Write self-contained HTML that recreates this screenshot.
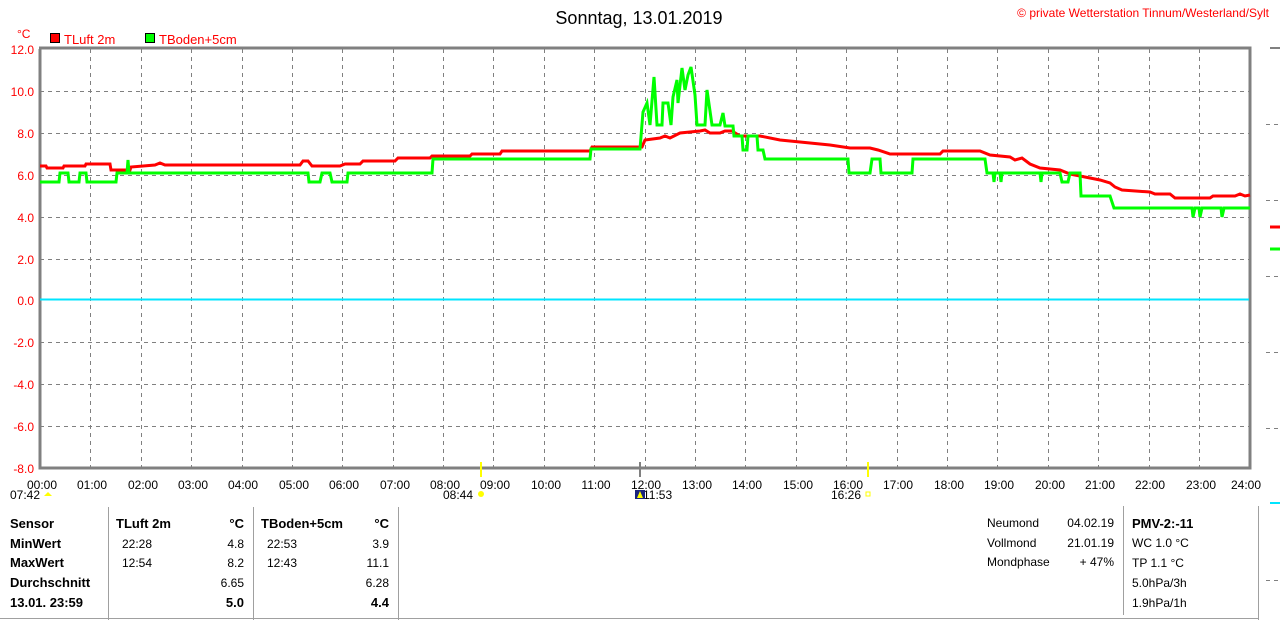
<!DOCTYPE html>
<html><head><meta charset="utf-8"><style>
html,body{margin:0;padding:0;background:#fff;}
svg{display:block;font-family:"Liberation Sans",sans-serif;}
</style></head><body>
<svg width="1280" height="621" viewBox="0 0 1280 621" xmlns="http://www.w3.org/2000/svg">
<rect width="1280" height="621" fill="#fff"/>
<text x="639" y="24" font-size="18" text-anchor="middle" fill="#000">Sonntag, 13.01.2019</text>
<text x="1269" y="17" font-size="12" text-anchor="end" fill="#f00">© private Wetterstation Tinnum/Westerland/Sylt</text>
<text x="17" y="38" font-size="12" fill="#f00">°C</text>
<rect x="50.5" y="33.5" width="9" height="9" fill="#f00" stroke="#000"/>
<text x="64" y="44" font-size="13" fill="#f00">TLuft 2m</text>
<rect x="145.5" y="33.5" width="9" height="9" fill="#0f0" stroke="#000"/>
<text x="159" y="44" font-size="13" fill="#f00">TBoden+5cm</text>
<g stroke="#808080" stroke-width="1" stroke-dasharray="4,4" fill="none">
<path d="M40 91.5H1250M40 133.5H1250M40 175.5H1250M40 217.5H1250M40 259.5H1250M40 342.5H1250M40 384.5H1250M40 426.5H1250"/>
<path d="M90.5 49V468M141.5 49V468M191.5 49V468M242.5 49V468M292.5 49V468M342.5 49V468M393.5 49V468M443.5 49V468M493.5 49V468M544.5 49V468M594.5 49V468M645.5 49V468M695.5 49V468M745.5 49V468M796.5 49V468M846.5 49V468M897.5 49V468M947.5 49V468M997.5 49V468M1048.5 49V468M1098.5 49V468M1149.5 49V468M1199.5 49V468"/>
<path d="M1266 124.5H1280M1266 200.5H1280M1266 276.5H1280M1266 352.5H1280M1266 428.5H1280M1266 580.5H1280"/>
</g>
<path d="M40 49V468H1250V48H39" fill="none" stroke="#808080" stroke-width="3"/>
<path d="M1270 48H1280" stroke="#808080" stroke-width="2"/>
<path d="M40 299.5H1249" stroke="#00e5ff" stroke-width="2"/>
<g fill="#f00" font-size="12" text-anchor="end">
<text x="34" y="54">12.0</text><text x="34" y="96">10.0</text><text x="34" y="138">8.0</text><text x="34" y="180">6.0</text><text x="34" y="222">4.0</text><text x="34" y="264">2.0</text><text x="34" y="305">0.0</text><text x="34" y="347">-2.0</text><text x="34" y="389">-4.0</text><text x="34" y="431">-6.0</text><text x="34" y="473">-8.0</text>
</g>
<g font-size="12" text-anchor="middle" fill="#000">
<text x="42" y="489">00:00</text><text x="92" y="489">01:00</text><text x="143" y="489">02:00</text><text x="193" y="489">03:00</text><text x="243" y="489">04:00</text><text x="294" y="489">05:00</text><text x="344" y="489">06:00</text><text x="395" y="489">07:00</text><text x="445" y="489">08:00</text><text x="495" y="489">09:00</text><text x="546" y="489">10:00</text><text x="596" y="489">11:00</text><text x="646" y="489">12:00</text><text x="697" y="489">13:00</text><text x="747" y="489">14:00</text><text x="798" y="489">15:00</text><text x="848" y="489">16:00</text><text x="898" y="489">17:00</text><text x="949" y="489">18:00</text><text x="999" y="489">19:00</text><text x="1050" y="489">20:00</text><text x="1100" y="489">21:00</text><text x="1150" y="489">22:00</text><text x="1201" y="489">23:00</text><text x="1231" y="489" text-anchor="start">24:00</text>
</g>
<g font-size="12" fill="#000">
<text x="10" y="499">07:42</text><text x="443" y="499">08:44</text><text x="643" y="499">11:53</text><text x="831" y="499">16:26</text>
</g>
<path d="M44 496h8l-4-4z" fill="#ff0"/>
<circle cx="481" cy="494" r="3" fill="#ff0"/>
<rect x="635" y="490" width="10" height="9" fill="#1a237e"/>
<path d="M640 491l-3 7h6z" fill="#ff0"/>
<rect x="866" y="492" width="4" height="4" fill="none" stroke="#ff0"/>
<path d="M481 462V477M868 462V477" stroke="#ff0" stroke-width="2"/>
<path d="M640 462V477" stroke="#808080" stroke-width="2"/>
<polyline fill="none" stroke="#f00" stroke-width="3" points="40,166 46,166 47,168 63,168 64,166 85,166 86,164 110,164 111,170 130,170 131,167 155,165 160,163 165,165 300,165 303,161 308,161 312,166 340,166 345,164 360,164 363,161 395,161 398,158 430,158 432,156 470,156 472,154 500,154 502,151 590,151 592,147 642,147 645,140 660,138 665,136 670,138 680,133 700,131 705,130 710,133 720,133 725,131 732,131 740,136 760,136 780,140 800,142 830,145 850,148 870,148 878,150 890,154 940,154 943,151 980,151 990,155 1010,157 1015,160 1022,158 1030,164 1040,168 1060,170 1070,174 1090,178 1100,180 1110,183 1115,187 1122,190 1150,192 1155,194 1170,194 1175,198 1210,198 1213,196 1235,196 1240,194 1245,196 1250,195"/>
<polyline fill="none" stroke="#0f0" stroke-width="3" points="40,182 59,182 60,173 68,173 69,182 79,182 80,173 86,173 87,182 116,182 117,173 127,173 128,160 129,173 308,173 309,182 320,182 322,173 330,173 332,182 347,182 348,173 432,173 433,159 590,159 591,149 640,149 643,112 647,103 650,125 654,77 657,125 662,125 663,103 668,103 671,125 673,97 677,80 678,103 682,68 685,90 688,75 691,67 695,95 697,125 705,125 707,90 712,125 720,125 723,113 725,126 733,126 734,136 742,136 743,150 747,150 748,136 757,136 758,150 763,150 765,159 848,159 849,173 870,173 872,159 880,159 881,173 912,173 913,159 985,159 987,173 993,173 994,182 995,173 1000,173 1001,182 1002,173 1040,173 1041,182 1042,173 1060,173 1062,182 1068,182 1070,173 1080,173 1081,196 1110,196 1114,208 1192,208 1193,217 1195,208 1199,208 1200,217 1202,208 1221,208 1222,217 1224,208 1250,208"/>
<path d="M1270 227H1280" stroke="#f00" stroke-width="3"/>
<path d="M1270 249H1280" stroke="#0f0" stroke-width="3"/>
<path d="M1270 503H1280" stroke="#00e5ff" stroke-width="2"/>
<g stroke="#a0a0a0" stroke-width="1" fill="none">
<path d="M108.5 507V620M253.5 507V620M398.5 507V620"/>
<path d="M1123.5 506V615M1258.5 506V620"/>
<path d="M0 618.5H1258"/>
</g>
<g font-size="13" fill="#000">
<text x="10" y="528" font-weight="bold">Sensor</text>
<text x="10" y="548" font-weight="bold">MinWert</text>
<text x="10" y="567" font-weight="bold">MaxWert</text>
<text x="10" y="587" font-weight="bold">Durchschnitt</text>
<text x="10" y="607" font-weight="bold">13.01. 23:59</text>
<text x="116" y="528" font-weight="bold">TLuft 2m</text>
<text x="244" y="528" font-weight="bold" text-anchor="end">°C</text>
<text x="122" y="548" font-size="12">22:28</text><text x="244" y="548" font-size="12" text-anchor="end">4.8</text>
<text x="122" y="567" font-size="12">12:54</text><text x="244" y="567" font-size="12" text-anchor="end">8.2</text>
<text x="244" y="587" font-size="12" text-anchor="end">6.65</text>
<text x="244" y="607" font-weight="bold" text-anchor="end">5.0</text>
<text x="261" y="528" font-weight="bold">TBoden+5cm</text>
<text x="389" y="528" font-weight="bold" text-anchor="end">°C</text>
<text x="267" y="548" font-size="12">22:53</text><text x="389" y="548" font-size="12" text-anchor="end">3.9</text>
<text x="267" y="567" font-size="12">12:43</text><text x="389" y="567" font-size="12" text-anchor="end">11.1</text>
<text x="389" y="587" font-size="12" text-anchor="end">6.28</text>
<text x="389" y="607" font-weight="bold" text-anchor="end">4.4</text>
</g>
<g font-size="12" fill="#000">
<text x="987" y="527">Neumond</text><text x="1114" y="527" text-anchor="end">04.02.19</text>
<text x="987" y="547">Vollmond</text><text x="1114" y="547" text-anchor="end">21.01.19</text>
<text x="987" y="566">Mondphase</text><text x="1114" y="566" text-anchor="end">+ 47%</text>
<text x="1132" y="528" font-size="13" font-weight="bold">PMV-2:-11</text>
<text x="1132" y="547">WC 1.0 °C</text>
<text x="1132" y="567">TP 1.1 °C</text>
<text x="1132" y="587">5.0hPa/3h</text>
<text x="1132" y="607">1.9hPa/1h</text>
</g>
</svg>
</body></html>
